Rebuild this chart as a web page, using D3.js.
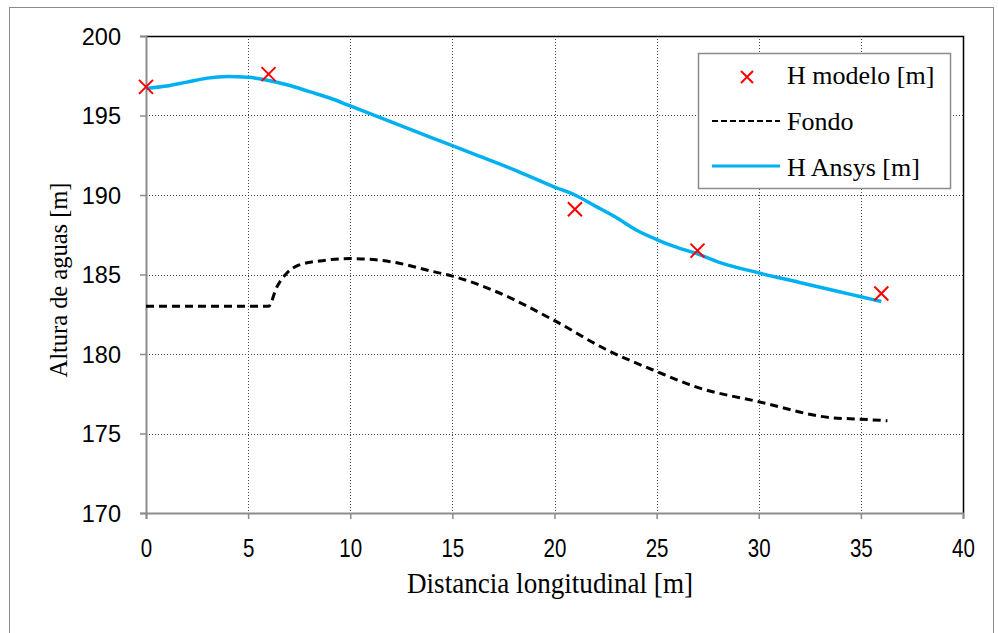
<!DOCTYPE html>
<html>
<head>
<meta charset="utf-8">
<script src="https://cdn.jsdelivr.net/npm/d3@7"></script>
<style>
	body { margin: 0; background: #fff; }
	svg { display: block; }
</style>
</head>
<body>
<div class="chart"></div>
<script>
// measured points (red crosses)
const modeloX = [0, 6, 21, 27, 36];
const modeloH = [196.8, 197.6, 189.1, 186.5, 183.8];

// bed profile (dashed)
const fondoX = [0, 6, 6.4, 6.9, 7.5, 8.5, 10, 12, 14, 15, 17, 20, 22.5, 25, 27, 30, 33.5, 35, 36.3];
const fondoH = [183.0, 183.0, 184.2, 185.1, 185.6, 185.85, 186.0, 185.8, 185.2, 184.9, 184.0, 182.1, 180.3, 178.9, 177.9, 177.0, 176.0, 175.9, 175.8];

// simulated water surface (blue)
const ansysX = [0, 1, 2, 3, 4, 5, 6, 7, 8, 9, 10, 12, 14, 16, 18, 20, 21, 22, 23, 24, 25, 26, 27, 28, 30, 32, 34, 35, 36];
const ansysH = [196.7, 196.85, 197.1, 197.35, 197.45, 197.4, 197.2, 196.9, 196.5, 196.1, 195.6, 194.6, 193.6, 192.6, 191.6, 190.5, 190.0, 189.3, 188.6, 187.8, 187.2, 186.7, 186.3, 185.8, 185.1, 184.5, 183.9, 183.6, 183.3];

const xTicks = [0, 5, 10, 15, 20, 25, 30, 35, 40];
const yTicks = [170, 175, 180, 185, 190, 195, 200];

const legendLabels = ["H modelo [m]", "Fondo", "H Ansys [m]"];

(function () {
	const width = 998, height = 633;
	const left = 146, right = 963, top = 36, bottom = 513;
	const serif = "'Liberation Serif', 'Times New Roman', serif";

	const svg = d3.select(".chart").append("svg")
		.attr("width", width)
		.attr("height", height);

	// outer frame
	svg.append("rect")
		.attr("x", 9.5).attr("y", 7.5)
		.attr("width", 984).attr("height", 640)
		.attr("fill", "#fff")
		.attr("stroke", "#8c8c8c")
		.attr("stroke-width", 1);

	const x = d3.scaleLinear().domain([0, 40]).range([left, right]);
	const y = d3.scaleLinear().domain([170, 200]).range([bottom, top]);

	// grid
	svg.append("g").selectAll("line")
		.data(xTicks.slice(1, -1))
		.enter().append("line")
		.attr("x1", d => Math.round(x(d)) + 0.5)
		.attr("x2", d => Math.round(x(d)) + 0.5)
		.attr("y1", top).attr("y2", bottom)
		.attr("stroke", "#444")
		.attr("stroke-dasharray", "1,2");
	svg.append("g").selectAll("line")
		.data(yTicks.slice(1, -1))
		.enter().append("line")
		.attr("x1", left).attr("x2", right)
		.attr("y1", d => Math.round(y(d)) + 0.5)
		.attr("y2", d => Math.round(y(d)) + 0.5)
		.attr("stroke", "#444")
		.attr("stroke-dasharray", "1,2");

	// top and right border
	svg.append("path")
		.attr("d", "M" + left + "," + (top + 0.5) + "H" + (right + 0.5) + "V" + bottom)
		.attr("fill", "none")
		.attr("stroke", "#000")
		.attr("stroke-width", 1.5);

	// axes
	const xAxis = svg.append("g")
		.attr("transform", "translate(0," + bottom + ")")
		.call(d3.axisBottom(x).tickValues(xTicks).tickSize(6).tickFormat(d3.format("d")));
	const yAxis = svg.append("g")
		.attr("transform", "translate(" + left + ",0)")
		.call(d3.axisLeft(y).tickValues(yTicks).tickSize(6).tickFormat(d3.format("d")));

	[xAxis, yAxis].forEach(function (a) {
		a.select(".domain").attr("stroke", "#8c8c8c").attr("stroke-width", 2);
		a.selectAll(".tick line").attr("stroke", "#8c8c8c").attr("stroke-width", 1.5);
		a.selectAll(".tick text").attr("fill", "#000");
	});
	// narrow digits under the x axis
	xAxis.selectAll(".tick text")
		.attr("font-family", "'Liberation Sans', Arial, sans-serif")
		.attr("font-size", 25)
		.attr("y", 44)
		.attr("dy", 0)
		.attr("transform", "scale(0.82,1)");
	yAxis.selectAll(".tick text")
		.attr("font-family", "'Liberation Sans', Arial, sans-serif")
		.attr("font-size", 23.5)
		.attr("x", -25)
		.attr("dy", "0.36em");

	// axis titles
	svg.append("text")
		.attr("x", 550).attr("y", 593)
		.attr("text-anchor", "middle")
		.attr("font-family", serif)
		.attr("font-size", 29)
		.attr("textLength", 286)
		.attr("lengthAdjust", "spacingAndGlyphs")
		.text("Distancia longitudinal [m]");
	svg.append("text")
		.attr("transform", "translate(67,280) rotate(-90)")
		.attr("text-anchor", "middle")
		.attr("font-family", serif)
		.attr("font-size", 25)
		.attr("textLength", 195)
		.attr("lengthAdjust", "spacingAndGlyphs")
		.text("Altura de aguas [m]");

	const line = d3.line()
		.x(d => x(d[0]))
		.y(d => y(d[1]))
		.curve(d3.curveMonotoneX);

	svg.append("path")
		.datum(d3.zip(fondoX, fondoH))
		.attr("fill", "none")
		.attr("stroke", "#000")
		.attr("stroke-width", 3)
		.attr("stroke-dasharray", "8,5")
		.attr("d", line);

	svg.append("path")
		.datum(d3.zip(ansysX, ansysH))
		.attr("fill", "none")
		.attr("stroke", "#00b0f0")
		.attr("stroke-width", 3.5)
		.attr("d", line);

	const cross = "M-7,-7L7,7M-7,7L7,-7";
	svg.append("g").selectAll("path")
		.data(d3.zip(modeloX, modeloH))
		.enter().append("path")
		.attr("transform", d => "translate(" + x(d[0]) + "," + y(d[1]) + ")")
		.attr("d", cross)
		.attr("stroke", "#ff0000")
		.attr("stroke-width", 2)
		.attr("fill", "none");

	// legend
	const legend = svg.append("g");
	legend.append("rect")
		.attr("x", 698.5).attr("y", 53.5)
		.attr("width", 252).attr("height", 135)
		.attr("fill", "#fff")
		.attr("stroke", "#8c8c8c")
		.attr("stroke-width", 1.5);
	const rows = [77, 121, 166];
	const baselines = [84, 130, 176];
	legend.append("path")
		.attr("transform", "translate(747," + rows[0] + ")")
		.attr("d", "M-6,-6L6,6M-6,6L6,-6")
		.attr("stroke", "#ff0000")
		.attr("stroke-width", 2);
	legend.append("line")
		.attr("x1", 712).attr("x2", 780)
		.attr("y1", rows[1]).attr("y2", rows[1])
		.attr("stroke", "#000")
		.attr("stroke-width", 2)
		.attr("stroke-dasharray", "6,3");
	legend.append("line")
		.attr("x1", 712).attr("x2", 780)
		.attr("y1", rows[2]).attr("y2", rows[2])
		.attr("stroke", "#00b0f0")
		.attr("stroke-width", 3);
	legend.selectAll("text")
		.data(legendLabels)
		.enter().append("text")
		.attr("x", 787)
		.attr("y", (d, i) => baselines[i])
		.attr("font-family", serif)
		.attr("font-size", 26)
		.text(d => d);
}());
</script>
</body>
</html>
